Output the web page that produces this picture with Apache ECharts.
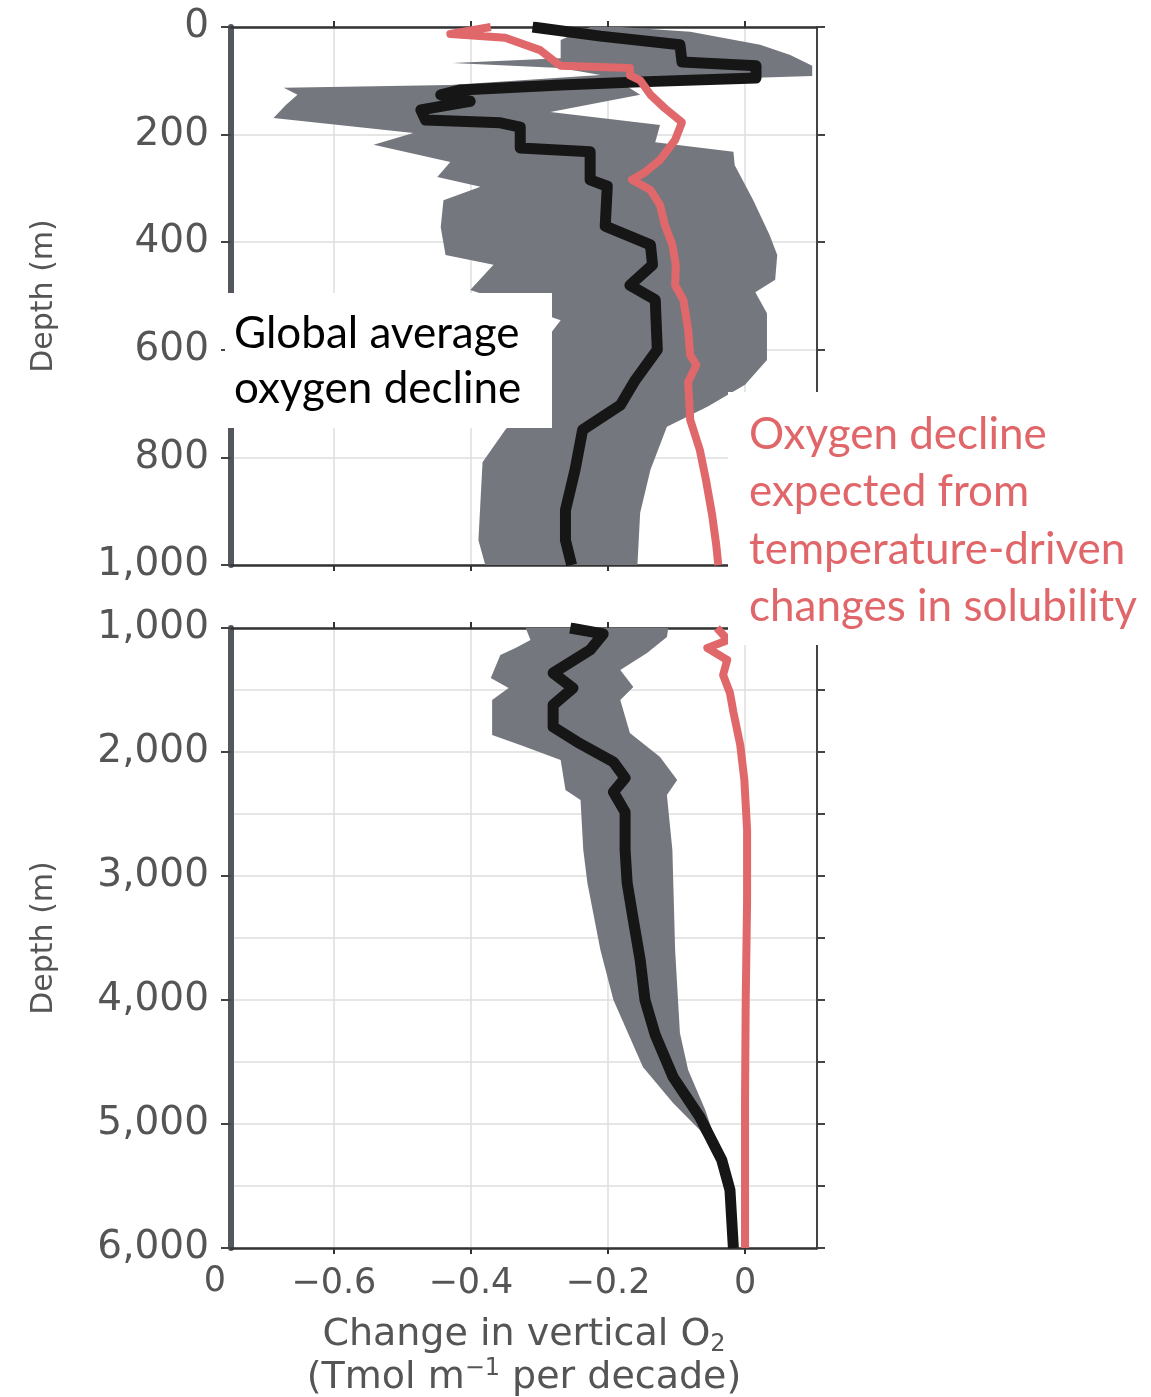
<!DOCTYPE html>
<html>
<head>
<meta charset="utf-8">
<title>Change in vertical O2 by depth</title>
<script src="https://cdn.jsdelivr.net/npm/echarts@6/dist/echarts.min.js"></script>
<style>
  html, body { margin: 0; padding: 0; background: #fff; }
  #chart { width: 1151px; height: 1397px; }
</style>
</head>
<body>
<div id="chart"></div>
<script>
// every point is [change in vertical O2 (Tmol m-1 per decade), depth (m)]
const topMean = [
  [-0.310, 0], [-0.211, 17], [-0.095, 33], [-0.092, 65], [0.016, 72], [0.016, 95],
  [-0.153, 102], [-0.269, 108], [-0.415, 117], [-0.444, 126], [-0.401, 138], [-0.473, 154],
  [-0.466, 173], [-0.357, 178], [-0.328, 186], [-0.328, 225], [-0.226, 232], [-0.226, 284],
  [-0.201, 296], [-0.204, 370], [-0.138, 405], [-0.135, 442], [-0.168, 480], [-0.131, 507],
  [-0.128, 600], [-0.160, 656], [-0.182, 703], [-0.237, 749], [-0.248, 823], [-0.262, 898],
  [-0.262, 954], [-0.253, 1000]
]
const topSolubility = [
  [-0.371, 0], [-0.430, 13], [-0.350, 20], [-0.299, 43], [-0.277, 65], [-0.269, 72],
  [-0.168, 76], [-0.168, 90], [-0.153, 99], [-0.138, 126], [-0.117, 151], [-0.092, 177],
  [-0.102, 210], [-0.124, 247], [-0.146, 270], [-0.165, 284], [-0.138, 303], [-0.124, 331],
  [-0.117, 368], [-0.106, 405], [-0.101, 442], [-0.102, 480], [-0.090, 507], [-0.083, 563],
  [-0.080, 610], [-0.071, 628], [-0.083, 660], [-0.080, 730], [-0.066, 786], [-0.057, 842],
  [-0.048, 907], [-0.042, 963], [-0.039, 1000]
]
const topBandLow = [
  [-0.226, 0], [-0.269, 24], [-0.269, 58], [-0.427, 67], [-0.269, 76], [-0.211, 89],
  [-0.430, 108], [-0.673, 113], [-0.653, 126], [-0.670, 145], [-0.688, 169], [-0.484, 197],
  [-0.542, 219], [-0.430, 251], [-0.449, 279], [-0.386, 297], [-0.440, 322], [-0.444, 372],
  [-0.437, 424], [-0.367, 442], [-0.401, 489], [-0.357, 507], [-0.269, 545], [-0.291, 582],
  [-0.313, 693], [-0.350, 749], [-0.383, 809], [-0.389, 954], [-0.379, 1000]
]
const topBandHigh = [
  [-0.182, 0], [-0.080, 9], [0.022, 33], [0.066, 52], [0.098, 72], [0.098, 91],
  [-0.182, 102], [-0.153, 126], [-0.284, 158], [-0.124, 182], [-0.131, 214], [-0.017, 232],
  [-0.015, 257], [0.012, 322], [0.036, 387], [0.047, 424], [0.044, 470], [0.015, 493],
  [0.032, 532], [0.032, 619], [0, 665], [-0.055, 706], [-0.114, 743], [-0.138, 823],
  [-0.153, 903], [-0.157, 1000]
]
const deepMean = [
  [-0.255, 1000], [-0.207, 1048], [-0.226, 1177], [-0.280, 1363], [-0.251, 1484],
  [-0.280, 1621], [-0.280, 1798], [-0.245, 1919], [-0.192, 2081], [-0.175, 2210],
  [-0.192, 2323], [-0.175, 2484], [-0.175, 2790], [-0.172, 3056], [-0.163, 3355],
  [-0.153, 3677], [-0.146, 4000], [-0.131, 4282], [-0.105, 4621], [-0.066, 4944],
  [-0.034, 5290], [-0.022, 5532], [-0.017, 6000]
]
const deepSolubility = [
  [-0.041, 1000], [-0.025, 1097], [-0.055, 1161], [-0.026, 1258], [-0.032, 1379],
  [-0.022, 1524], [-0.017, 1677], [-0.007, 1944], [-0.001, 2226], [0.003, 2629],
  [0.003, 3194], [0.001, 4000], [0, 4806], [0, 6000]
]
const deepBandLow = [
  [-0.320, 1000], [-0.313, 1097], [-0.335, 1161], [-0.357, 1218], [-0.371, 1403],
  [-0.345, 1484], [-0.369, 1581], [-0.369, 1863], [-0.328, 1944], [-0.269, 2065],
  [-0.262, 2307], [-0.240, 2387], [-0.236, 2790], [-0.230, 3056], [-0.211, 3597],
  [-0.192, 4000], [-0.149, 4540], [-0.105, 4831], [-0.066, 5048], [-0.034, 5331]
]
const deepBandHigh = [
  [-0.112, 1000], [-0.114, 1073], [-0.143, 1202], [-0.182, 1339], [-0.163, 1476],
  [-0.182, 1581], [-0.168, 1847], [-0.124, 2040], [-0.099, 2226], [-0.114, 2347],
  [-0.106, 2790], [-0.102, 3597], [-0.095, 4266], [-0.083, 4565], [-0.058, 4887],
  [-0.031, 5331]
]
const xTicks = [-0.6, -0.4, -0.2, 0]

const FONT = 'DejaVu Sans'
const GRAY_TEXT = '#555'
const chart = echarts.init(document.getElementById('chart'))

const xAxis = (gridIndex, position, extra) => Object.assign({
  type: 'value',
  gridIndex,
  position,
  min: -0.75,
  max: 0.105,
  axisLine: { show: true, onZero: false, lineStyle: { color: '#333', width: 2.5 } },
  axisTick: { show: true, customValues: xTicks, length: 6, lineStyle: { color: '#333', width: 2 } },
  axisLabel: { show: false, customValues: xTicks },
  splitLine: { show: false }
}, extra)

const yAxis = (gridIndex, position, min, max, interval, extra) => Object.assign({
  type: 'value',
  gridIndex,
  position,
  inverse: true,
  min,
  max,
  interval,
  axisLine: { show: true, onZero: false, lineStyle: { color: '#444', width: 2 } },
  axisTick: { show: true, length: 8, lineStyle: { color: '#444', width: 2 } },
  axisLabel: { show: false },
  splitLine: { show: false }
}, extra)

const leftAxis = {
  axisLine: { show: true, onZero: false, lineStyle: { color: '#54585d', width: 6 } },
  axisTick: { show: true, length: 10, lineStyle: { color: '#444', width: 2 } },
  axisLabel: {
    show: true,
    margin: 22,
    fontSize: 39,
    fontFamily: FONT,
    color: GRAY_TEXT,
    formatter: v => v.toLocaleString('en-US')
  },
  name: 'Depth (m)',
  nameLocation: 'middle',
  nameRotate: 90,
  nameGap: 172,
  nameTextStyle: { fontSize: 30, fontFamily: FONT, color: GRAY_TEXT }
}
const gridLines = { splitLine: { show: true, lineStyle: { color: '#dedede', width: 1.5 } } }

const band = (xi, yi, low, high) => ({
  type: 'custom',
  xAxisIndex: xi,
  yAxisIndex: yi,
  silent: true,
  clip: true,
  z: 2,
  data: [low[0]],
  renderItem: (params, api) => ({
    type: 'polygon',
    shape: { points: low.concat(high.slice().reverse()).map(p => api.coord(p)) },
    style: { fill: '#74777d' }
  })
})

const line = (name, xi, yi, data, color, width, z) => ({
  name,
  type: 'line',
  xAxisIndex: xi,
  yAxisIndex: yi,
  data,
  symbol: 'none',
  silent: true,
  z,
  lineStyle: { color, width, join: 'round' }
})

const option = {
  animation: false,
  backgroundColor: '#fff',
  grid: [
    { left: 231, top: 27, width: 586, height: 538, outerBoundsMode: 'none' },
    { left: 231, top: 628, width: 586, height: 620, outerBoundsMode: 'none' }
  ],
  xAxis: [
    xAxis(0, 'top'),
    xAxis(0, 'bottom', gridLines),
    xAxis(1, 'top'),
    xAxis(1, 'bottom', Object.assign({
      axisLabel: {
        show: true,
        customValues: xTicks,
        margin: 18,
        fontSize: 35,
        fontFamily: FONT,
        color: GRAY_TEXT,
        formatter: v => (v === 0 ? '0' : '\u2212' + Math.abs(v).toFixed(1))
      },
      name: '{a|Change in vertical O}{s|2}\n{a|(Tmol m}{p|\u22121}{a| per decade)}',
      nameLocation: 'middle',
      nameGap: 66,
      nameTextStyle: {
        color: GRAY_TEXT,
        fontFamily: FONT,
        rich: {
          a: { fontSize: 38, fontFamily: FONT, color: GRAY_TEXT, lineHeight: 43 },
          s: { fontSize: 24, fontFamily: FONT, color: GRAY_TEXT, lineHeight: 16, verticalAlign: 'bottom' },
          p: { fontSize: 24, fontFamily: FONT, color: GRAY_TEXT, lineHeight: 16, verticalAlign: 'top' }
        }
      }
    }, gridLines))
  ],
  yAxis: [
    yAxis(0, 'left', 0, 1000, 200, leftAxis),
    yAxis(0, 'right', 0, 1000, 200, gridLines),
    yAxis(1, 'left', 1000, 6000, 1000, leftAxis),
    yAxis(1, 'right', 1000, 6000, 500, gridLines)
  ],
  series: [
    band(0, 0, topBandLow, topBandHigh),
    band(2, 2, deepBandLow, deepBandHigh),
    line('Global average', 0, 0, topMean, '#161616', 11, 3),
    line('Global average', 2, 2, deepMean, '#161616', 11, 3),
    line('Solubility', 0, 0, topSolubility, '#e0686a', 8, 4),
    line('Solubility', 2, 2, deepSolubility, '#e0686a', 8, 4)
  ],
  graphic: [
    {
      type: 'text',
      z: 50,
      style: {
        text: '0', x: 215, y: 1282, fontSize: 35, fontFamily: FONT, fill: GRAY_TEXT,
        align: 'center', verticalAlign: 'middle', textAlign: 'center', textVerticalAlign: 'middle'
      }
    },
    {
      type: 'rect',
      z: 50,
      shape: { x: 225, y: 293, width: 327, height: 135 },
      style: { fill: '#fff' }
    },
    {
      type: 'text',
      z: 51,
      style: {
        text: 'Global average\noxygen decline', x: 234, y: 361, fontSize: 44, fontFamily: 'Lato',
        lineHeight: 55, fill: '#000', verticalAlign: 'middle', textVerticalAlign: 'middle'
      }
    },
    {
      type: 'rect',
      z: 50,
      shape: { x: 728, y: 392, width: 423, height: 253 },
      style: { fill: '#fff' }
    },
    {
      type: 'text',
      z: 51,
      style: {
        text: 'Oxygen decline\nexpected from\ntemperature-driven\nchanges in solubility',
        x: 749, y: 521, fontSize: 44, fontFamily: 'Lato', lineHeight: 57.5,
        fill: '#e06669', verticalAlign: 'middle', textVerticalAlign: 'middle'
      }
    }
  ]
}

chart.setOption(option)
</script>
</body>
</html>
